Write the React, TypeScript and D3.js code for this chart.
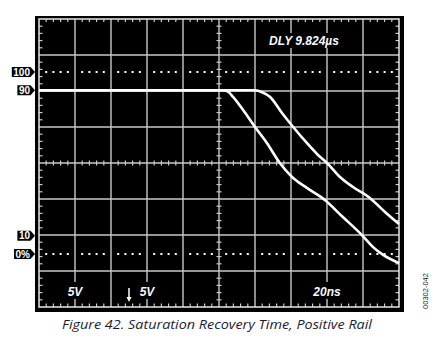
import React from "react";
import * as d3 from "d3";

// Trace data: x in horizontal divisions (0..10), y in percent (0%..100% markers)
const fastX = [0, 5.1, 5.25, 5.39, 5.67, 6.0, 6.33, 6.69, 7.03, 7.44, 7.94, 8.44, 8.97, 9.28, 9.56, 10];
const fastY = [90, 90, 89.2, 86.3, 79.1, 69.8, 61.0, 50.0, 42.3, 36.3, 29.7, 20.3, 10.4, 3.8, -0.5, -5];
const slowX = [0, 6.0, 6.2, 6.42, 6.75, 7.06, 7.44, 7.75, 8.0, 8.36, 8.72, 9.19, 9.61, 10];
const slowY = [90, 90, 88.9, 86.3, 77.5, 69.8, 61.0, 54.4, 50.0, 42.3, 36.8, 30.8, 23.1, 16.5];

const markerLabels = ["100", "90", "10", "0%"];
const markerValues = [100, 90, 10, 0];
const dottedLevels = [100, 0];

const bottomLabels = ["5V", "5V", "20ns"];
const bottomLabelPos = [1, 3, 8];
const delayText = "DLY 9.824µs";
const caption = "Figure 42. Saturation Recovery Time, Positive Rail";
const sideCode = "00302-042";

const W = 435;
const H = 342;
const L = 39, R = 399, T = 19, B = 307;

function labelWidth(t: string) {
  let w = 0;
  for (const c of t) w += c === "%" ? 8.9 : 5.56;
  return w;
}

export default function App() {
  const x = d3.scaleLinear().domain([0, 10]).range([L, R]);
  const yDiv = d3.scaleLinear().domain([0, 8]).range([B, T]);
  const yPct = d3.scaleLinear().domain([0, 100]).range([254, 72]);

  const line = d3
    .line<[number, number]>()
    .x((d) => x(d[0]))
    .y((d) => yPct(d[1]))
    .curve(d3.curveMonotoneX);

  const fast = line(fastX.map((v, i) => [v, fastY[i]] as [number, number])) || "";
  const slow = line(slowX.map((v, i) => [v, slowY[i]] as [number, number])) || "";

  const majorX = d3.range(1, 10);
  const majorY = d3.range(1, 8);
  const minorX = d3.range(0, 50.001, 1).map((i) => i / 5);
  const minorY = d3.range(0, 40.001, 1).map((i) => i / 5);

  const gridColor = "#c9c9c9";
  const font = "'Liberation Sans', Arial, sans-serif";

  return (
    <>
      <style>{"body{margin:0}"}</style>
      <svg width={W} height={H} style={{ display: "block", background: "#fff" }}>
        <rect x={35} y={16} width={369} height={296} fill="#000" />
        {/* major grid */}
        {majorX.map((d) => (
          <line key={"gx" + d} x1={x(d)} x2={x(d)} y1={T} y2={B} stroke={gridColor} strokeWidth={1.4} />
        ))}
        {majorY.map((d) => (
          <line key={"gy" + d} y1={yDiv(d)} y2={yDiv(d)} x1={L} x2={R} stroke={gridColor} strokeWidth={1.4} />
        ))}
        {/* minor ticks on edges and center lines */}
        {minorX.map((d, i) =>
          i % 5 === 0 ? null : (
            <g key={"tx" + i} stroke={gridColor} strokeWidth={1.2}>
              <line x1={x(d)} x2={x(d)} y1={T} y2={T + 3} />
              <line x1={x(d)} x2={x(d)} y1={B - 3.5} y2={B} />
              <line x1={x(d)} x2={x(d)} y1={yDiv(4) - 2.5} y2={yDiv(4) + 2.5} />
            </g>
          )
        )}
        {minorY.map((d, i) =>
          i % 5 === 0 ? null : (
            <g key={"ty" + i} stroke={gridColor} strokeWidth={1.2}>
              <line y1={yDiv(d)} y2={yDiv(d)} x1={L} x2={L + 3.5} />
              <line y1={yDiv(d)} y2={yDiv(d)} x1={R - 3.5} x2={R} />
              <line y1={yDiv(d)} y2={yDiv(d)} x1={x(5) - 2.5} x2={x(5) + 2.5} />
            </g>
          )
        )}
        {/* dotted reference lines */}
        {dottedLevels.map((lv) =>
          minorX.map((d, i) =>
            i % 5 === 0 ? null : (
              <rect key={"dot" + lv + "-" + i} x={x(d) - 1} y={yPct(lv) - 1} width={2} height={2} fill="#fff" />
            )
          )
        )}
        {/* frame */}
        <rect x={L} y={T} width={R - L} height={B - T} fill="none" stroke="#e8e8e8" strokeWidth={1.5} />
        {/* traces */}
        <g fill="none" stroke="#fff" strokeWidth={2.6} strokeLinejoin="round">
          <path d={fast} />
          <path d={slow} />
        </g>
        {/* delay text */}
        <rect x={266} y={33} width={77} height={15} fill="#000" />
        <text x={304} y={45} textAnchor="middle" fill="#f6f9ff" fontFamily={font} fontWeight="bold" fontStyle="italic" fontSize={12}>
          {delayText}
        </text>
        {/* bottom labels */}
        {bottomLabels.map((t, i) => {
          const cx = x(bottomLabelPos[i]);
          const wide = t.length * 7;
          return (
            <g key={"bl" + i}>
              <rect x={cx - wide / 2 - 4} y={282} width={wide + 8} height={17} fill="#000" />
              <text x={cx} y={296} textAnchor="middle" fill="#f6f9ff" fontFamily={font} fontWeight="bold" fontStyle="italic" fontSize={12}>
                {t}
              </text>
            </g>
          );
        })}
        {/* ground arrow */}
        <line x1={x(2.5)} x2={x(2.5)} y1={288} y2={298} stroke="#fff" strokeWidth={1.5} />
        <path d={`M${x(2.5) - 2.5},297 L${x(2.5) + 2.5},297 L${x(2.5)},302 Z`} fill="#fff" />
        {/* left markers */}
        {markerLabels.map((t, i) => {
          const cy = yPct(markerValues[i]);
          const w = labelWidth(t) + 2;
          const xr = 30.5;
          return (
            <g key={"m" + i}>
              <path
                d={`M${xr - w},${cy - 5} L${xr},${cy - 5} L${xr + 4.5},${cy} L${xr},${cy + 5} L${xr - w},${cy + 5} Z`}
                fill="#000"
              />
              <text x={xr - 0.5} y={cy + 3.6} textAnchor="end" fill="#fff" fontFamily={font} fontWeight="bold" fontSize={10}>
                {t}
              </text>
            </g>
          );
        })}
        {/* caption */}
        <text x={217} y={329} textAnchor="middle" fill="#1c1c30" fontFamily="'Open Sans', 'Noto Sans', sans-serif" fontStyle="italic" fontSize={13.5} textLength={310} lengthAdjust="spacingAndGlyphs">
          {caption}
        </text>
        <text
          transform="translate(428,291) rotate(-90)"
          textAnchor="middle"
          fill="#222"
          fontFamily={font}
          fontSize={7.5}
        >
          {sideCode}
        </text>
      </svg>
    </>
  );
}
